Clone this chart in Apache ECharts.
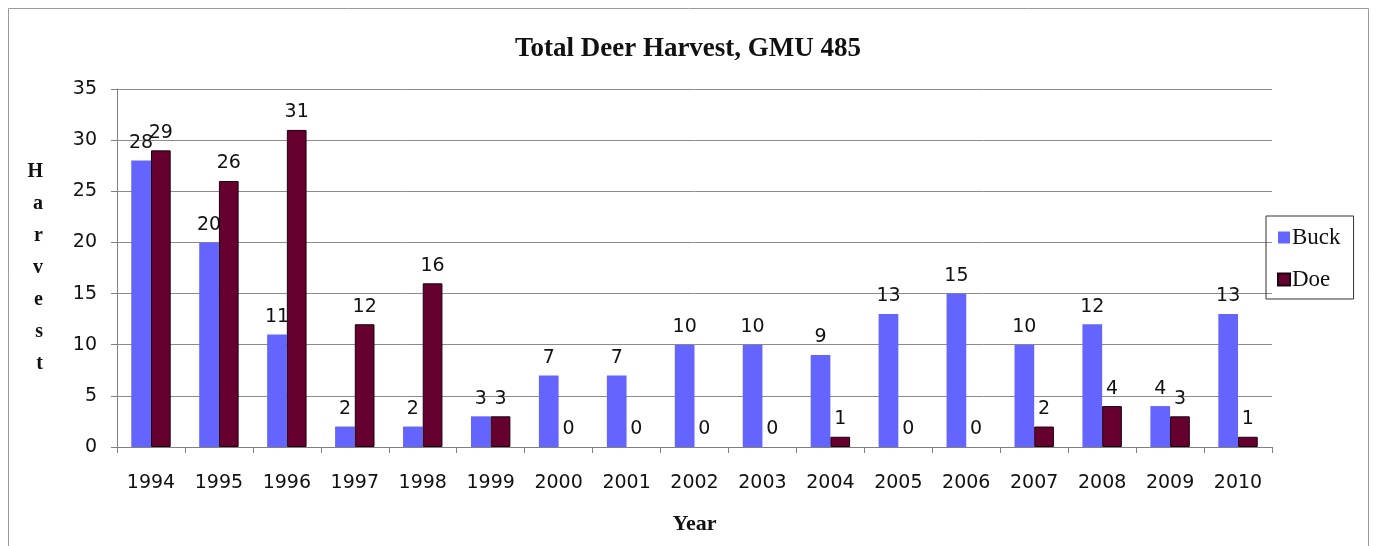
<!DOCTYPE html>
<html>
<head>
<meta charset="utf-8">
<style>
  html, body { margin: 0; padding: 0; background: #fff; }
  #chart { width: 1376px; height: 546px; }
</style>
<script src="https://cdn.jsdelivr.net/npm/echarts@6/dist/echarts.min.js"></script>
</head>
<body>
<div id="chart"></div>
<script>
// Harvest counts per season
const years = ['1994','1995','1996','1997','1998','1999','2000','2001','2002','2003','2004','2005','2006','2007','2008','2009','2010'];
const buck = [28, 20, 11, 2, 2, 3, 7, 7, 10, 10, 9, 13, 15, 10, 12, 4, 13];
const doe  = [29, 26, 31, 12, 16, 3, 0, 0, 0, 0, 1, 0, 0, 2, 4, 3, 1];

const chart = echarts.init(document.getElementById('chart'));

const labelStyle = {
  show: true,
  position: 'top',
  distance: 8,
  color: '#111',
  fontFamily: 'DejaVu Sans',
  fontSize: 19
};

// Empty doe bars get no outline so only their "0" label shows
const doeData = doe.map(v => v === 0 ? { value: v, itemStyle: { borderWidth: 0 } } : v);

chart.setOption({
  animation: false,
  backgroundColor: '#fff',
  graphic: [{
    type: 'rect',
    shape: { x: 8.5, y: 8.5, width: 1360, height: 560 },
    style: { fill: 'none', stroke: '#9a9a9a', lineWidth: 1 },
    silent: true
  }],
  title: {
    text: 'Total Deer Harvest, GMU 485',
    left: 'center',
    top: 31,
    textStyle: {
      fontFamily: 'Liberation Serif',
      fontWeight: 'bold',
      fontSize: 27,
      color: '#111'
    }
  },
  legend: {
    orient: 'vertical',
    left: 1266,
    top: 216,
    padding: [10, 13, 8, 11],
    itemGap: 19,
    itemWidth: 12,
    itemHeight: 12,
    borderColor: '#333',
    borderWidth: 1,
    icon: 'rect',
    textStyle: {
      fontFamily: 'Liberation Serif',
      fontSize: 23,
      color: '#111',
      padding: [0, 0, 0, -3]
    },
    data: ['Buck', 'Doe']
  },
  grid: { left: 117, right: 104, top: 89, bottom: 99, containLabel: false },
  xAxis: {
    type: 'category',
    data: years,
    name: 'Year',
    nameLocation: 'middle',
    nameGap: 66,
    nameTextStyle: {
      fontFamily: 'Liberation Serif',
      fontWeight: 'bold',
      fontSize: 22,
      color: '#111'
    },
    axisLine: { lineStyle: { color: '#808080', width: 1 } },
    axisTick: { show: true, length: 6, lineStyle: { color: '#808080' } },
    axisLabel: {
      margin: 27,
      color: '#111',
      fontFamily: 'DejaVu Sans',
      fontSize: 19
    }
  },
  yAxis: {
    type: 'value',
    min: 0,
    max: 35,
    interval: 5,
    name: 'H\na\nr\nv\ne\ns\nt',
    nameLocation: 'middle',
    nameRotate: 0,
    nameGap: 74,
    nameTextStyle: {
      fontFamily: 'Liberation Serif',
      fontWeight: 'bold',
      fontSize: 20,
      lineHeight: 32,
      color: '#111'
    },
    axisLine: { show: true, lineStyle: { color: '#808080', width: 1 } },
    axisTick: { show: true, length: 6, lineStyle: { color: '#808080' } },
    axisLabel: {
      margin: 20,
      color: '#111',
      fontFamily: 'DejaVu Sans',
      fontSize: 19
    },
    splitLine: { lineStyle: { color: '#8c8c8c', width: 1 } }
  },
  series: [
    {
      name: 'Buck',
      type: 'bar',
      data: buck,
      barGap: '0%',
      barCategoryGap: '42%',
      itemStyle: { color: '#6464ff' },
      label: labelStyle
    },
    {
      name: 'Doe',
      type: 'bar',
      data: doeData,
      barGap: '0%',
      barCategoryGap: '42%',
      itemStyle: { color: '#66002e', borderColor: '#1a0010', borderWidth: 1 },
      label: labelStyle
    }
  ]
});
</script>
</body>
</html>
